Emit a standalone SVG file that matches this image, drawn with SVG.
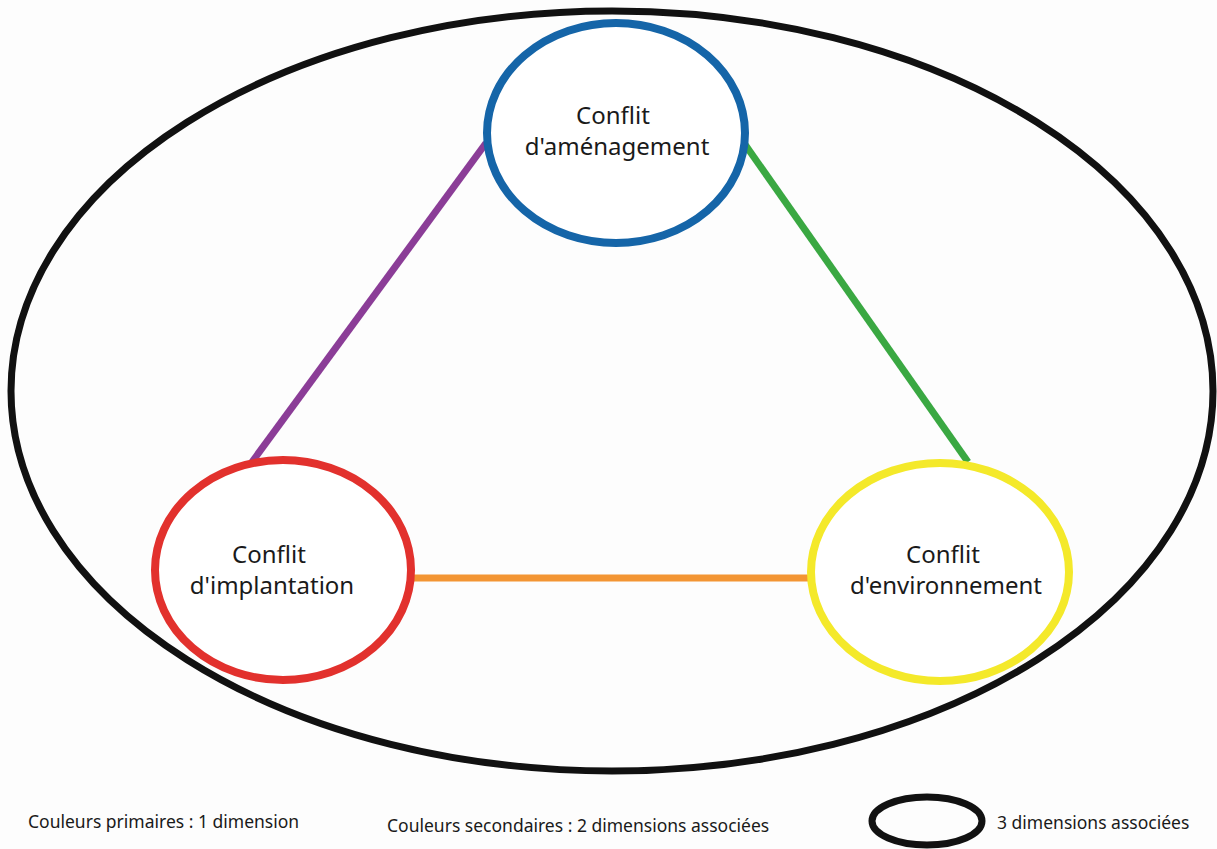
<svg xmlns="http://www.w3.org/2000/svg" width="1217" height="849" viewBox="0 0 1217 849">
<style>
.lbl{font-family:"Noto Sans","Open Sans","Liberation Sans",sans-serif;font-size:24px;fill:#1a1a1a;text-anchor:middle}
.leg{font-family:"Noto Sans","Open Sans","Liberation Sans",sans-serif;font-size:17.5px;fill:#1a1a1a}
.node{fill:#fff;stroke-width:8}
.edge{stroke-width:7;fill:none}
</style>
<rect width="1217" height="849" fill="#fdfdfd"/>
<g id="outer"><ellipse cx="612" cy="391" rx="601" ry="380" fill="none" stroke="#111" stroke-width="7"/></g>
<g id="connectors">
<line class="edge" x1="486" y1="143" x2="252" y2="462" stroke="#8b3d97"/>
<line class="edge" x1="744" y1="143" x2="968" y2="462" stroke="#3aa842"/>
<line class="edge" x1="414" y1="578" x2="812" y2="578" stroke="#f39533"/>
</g>
<g id="node-amenagement">
<ellipse class="node" cx="616" cy="133" rx="129" ry="110" stroke="#1565a8"/>
<text class="lbl" x="613" y="124">Conflit</text>
<text class="lbl" x="617" y="155">d'aménagement</text>
</g>
<g id="node-implantation">
<ellipse class="node" cx="283" cy="570" rx="128" ry="110" stroke="#e2312d"/>
<text class="lbl" x="269" y="563">Conflit</text>
<text class="lbl" x="272" y="594">d'implantation</text>
</g>
<g id="node-environnement">
<ellipse class="node" cx="940" cy="572" rx="129" ry="109" stroke="#f4e92a"/>
<text class="lbl" x="943" y="563">Conflit</text>
<text class="lbl" x="946" y="594">d'environnement</text>
</g>
<g id="legend">
<text class="leg" x="28" y="828">Couleurs primaires : 1 dimension</text>
<text class="leg" x="387" y="832">Couleurs secondaires : 2 dimensions associées</text>
<ellipse cx="927" cy="821" rx="55" ry="24" fill="none" stroke="#111" stroke-width="7"/>
<text class="leg" x="997" y="829">3 dimensions associées</text>
</g>
</svg>
